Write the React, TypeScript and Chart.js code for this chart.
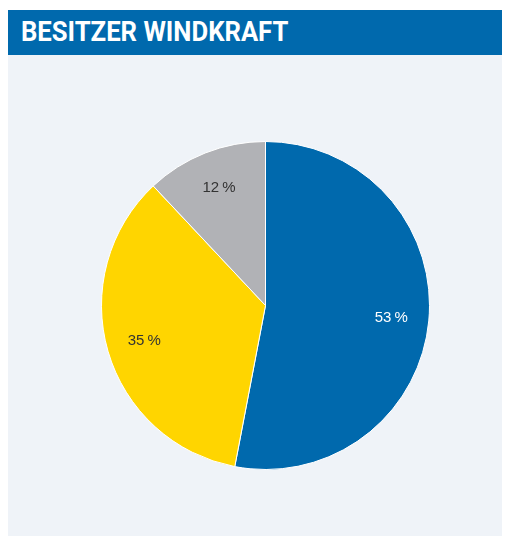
import React, { useEffect, useRef } from "react";
import { Chart, registerables } from "chart.js";

Chart.register(...registerables);

const TITLE = "BESITZER WINDKRAFT";
const categories = ["Gruppe A", "Gruppe B", "Gruppe C"];
const values = [53, 35, 12];
const colors = ["#0069AD", "#FFD500", "#B1B2B6"];
const labelColors = ["#FFFFFF", "#333333", "#333333"];

const labelPlugin = {
  id: "sliceLabels",
  afterDatasetsDraw(chart: any) {
    const ctx = chart.ctx;
    const meta = chart.getDatasetMeta(0);
    ctx.save();
    ctx.font = "15px 'Liberation Sans', Arial, sans-serif";
    ctx.textAlign = "center";
    ctx.textBaseline = "middle";
    meta.data.forEach((arc: any, i: number) => {
      const mid = (arc.startAngle + arc.endAngle) / 2;
      const r = arc.outerRadius * 0.77;
      const x = arc.x + Math.cos(mid) * r;
      const y = arc.y + Math.sin(mid) * r;
      ctx.fillStyle = labelColors[i];
      ctx.fillText(values[i] + "\u2009%", x, y);
    });
    ctx.restore();
  },
};

export default function App() {
  const ref = useRef<HTMLCanvasElement>(null);
  useEffect(() => {
    if (!ref.current) return;
    const chart = new Chart(ref.current, {
      type: "pie",
      data: {
        labels: categories,
        datasets: [
          {
            data: values,
            backgroundColor: colors,
            borderColor: "#FFFFFF",
            borderWidth: 1,
          },
        ],
      },
      options: {
        animation: false,
        responsive: false,
        layout: { padding: { left: 93, right: 79, top: 86, bottom: 78 } },
        plugins: {
          legend: { display: false },
          tooltip: { enabled: false },
        },
      },
      plugins: [labelPlugin],
    });
    return () => chart.destroy();
  }, []);
  return (
    <div
      style={{
        position: "relative",
        top: 2,
        marginBottom: -10,
        width: 501,
        background: "#EFF3F8",
        overflow: "hidden",
      }}
    >
      <div
        style={{
          height: 45,
          background: "#0069AD",
          color: "#FFFFFF",
          fontFamily: "Roboto, 'Liberation Sans', sans-serif",
          fontWeight: 700,
          fontSize: 27,
          lineHeight: "45px",
          paddingLeft: 13,
          boxSizing: "border-box",
          whiteSpace: "nowrap",
          overflow: "hidden",
        }}
      >
        <span style={{ display: "inline-block", transform: "scaleX(0.95)", transformOrigin: "left center" }}>{TITLE}</span>
      </div>
      <canvas ref={ref} width={501} height={493} style={{ display: "block" }} />
    </div>
  );
}
